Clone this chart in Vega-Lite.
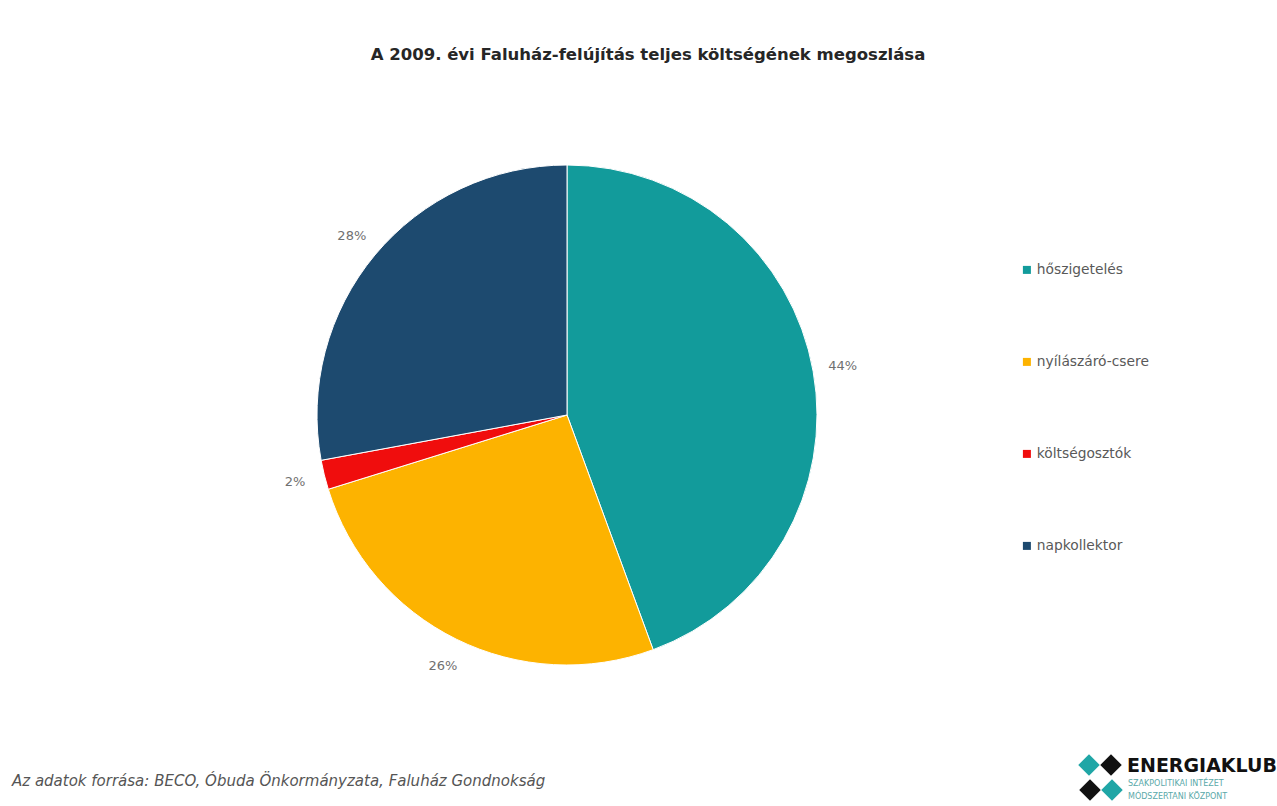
{
  "$schema": "https://vega.github.io/schema/vega-lite/v6.json",
  "width": 1134,
  "height": 710,
  "autosize": "none",
  "padding": {"left": 0, "top": 60, "right": 143, "bottom": 36},
  "background": "white",
  "title": {
    "text": "A 2009. évi Faluház-felújítás teljes költségének megoszlása",
    "fontSize": 16.5,
    "font": "DejaVu Sans",
    "fontWeight": "bold",
    "color": "#262626",
    "dx": 81,
    "offset": -3
  },
  "config": {"view": {"stroke": null}},
  "datasets": {
    "slices": [
      {"category": "hőszigetelés", "share": 0.444, "order": 1},
      {"category": "nyílászáró-csere", "share": 0.258, "order": 2},
      {"category": "költségosztók", "share": 0.019, "order": 3},
      {"category": "napkollektor", "share": 0.279, "order": 4}
    ],
    "notes": [
      {"note": "Az adatok forrása: BECO, Óbuda Önkormányzata, Faluház Gondnokság"}
    ],
    "logo": [
      {"brand": "ENERGIAKLUB", "line1": "SZAKPOLITIKAI INTÉZET", "line2": "MÓDSZERTANI KÖZPONT"}
    ]
  },
  "layer": [
    {
      "data": {"name": "slices"},
      "mark": {"type": "arc", "outerRadius": 250, "stroke": "white", "strokeWidth": 1},
      "encoding": {
        "theta": {"field": "share", "type": "quantitative", "stack": true},
        "order": {"field": "order", "type": "quantitative"},
        "color": {
          "field": "category",
          "type": "nominal",
          "scale": {
            "domain": ["hőszigetelés", "nyílászáró-csere", "költségosztók", "napkollektor"],
            "range": ["#129b9b", "#fdb300", "#f00d0d", "#1d4a6f"]
          },
          "legend": {
            "title": null,
            "orient": "none",
            "legendX": 1020,
            "legendY": 203,
            "symbolType": "square",
            "symbolSize": 64,
            "symbolStrokeWidth": 0,
            "labelFontSize": 13.8,
            "labelFont": "DejaVu Sans",
            "labelColor": "#595959",
            "labelOffset": 3,
            "rowPadding": 77
          }
        }
      }
    },
    {
      "data": {"name": "slices"},
      "mark": {"type": "text", "radius": 280, "fontSize": 13, "font": "DejaVu Sans", "color": "#707070"},
      "encoding": {
        "theta": {"field": "share", "type": "quantitative", "stack": true},
        "order": {"field": "order", "type": "quantitative"},
        "text": {"field": "share", "type": "quantitative", "format": ".0%"}
      }
    },
    {
      "data": {"name": "notes"},
      "mark": {"type": "text", "align": "left", "baseline": "middle", "fontSize": 15, "font": "DejaVu Sans", "fontStyle": "italic", "color": "#555555", "x": 12, "y": 721},
      "encoding": {"text": {"field": "note", "type": "nominal"}}
    },
    {
      "data": {"name": "logo"},
      "mark": {"type": "point", "shape": "diamond", "filled": true, "size": 460, "color": "#1fa6a6", "opacity": 1, "x": 1089, "y": 705},
      "encoding": {}
    },
    {
      "data": {"name": "logo"},
      "mark": {"type": "point", "shape": "diamond", "filled": true, "size": 460, "color": "#111111", "opacity": 1, "x": 1111, "y": 705},
      "encoding": {}
    },
    {
      "data": {"name": "logo"},
      "mark": {"type": "point", "shape": "diamond", "filled": true, "size": 460, "color": "#111111", "opacity": 1, "x": 1090, "y": 730},
      "encoding": {}
    },
    {
      "data": {"name": "logo"},
      "mark": {"type": "point", "shape": "diamond", "filled": true, "size": 460, "color": "#1fa6a6", "opacity": 1, "x": 1112, "y": 730},
      "encoding": {}
    },
    {
      "data": {"name": "logo"},
      "mark": {"type": "text", "align": "left", "baseline": "middle", "fontSize": 19, "font": "DejaVu Sans", "fontWeight": "bold", "color": "#111111", "x": 1127, "y": 706},
      "encoding": {"text": {"field": "brand", "type": "nominal"}}
    },
    {
      "data": {"name": "logo"},
      "mark": {"type": "text", "align": "left", "baseline": "middle", "fontSize": 8, "font": "DejaVu Sans", "color": "#5aa9a9", "x": 1128, "y": 724},
      "encoding": {"text": {"field": "line1", "type": "nominal"}}
    },
    {
      "data": {"name": "logo"},
      "mark": {"type": "text", "align": "left", "baseline": "middle", "fontSize": 8, "font": "DejaVu Sans", "color": "#5aa9a9", "x": 1128, "y": 737},
      "encoding": {"text": {"field": "line2", "type": "nominal"}}
    }
  ]
}
